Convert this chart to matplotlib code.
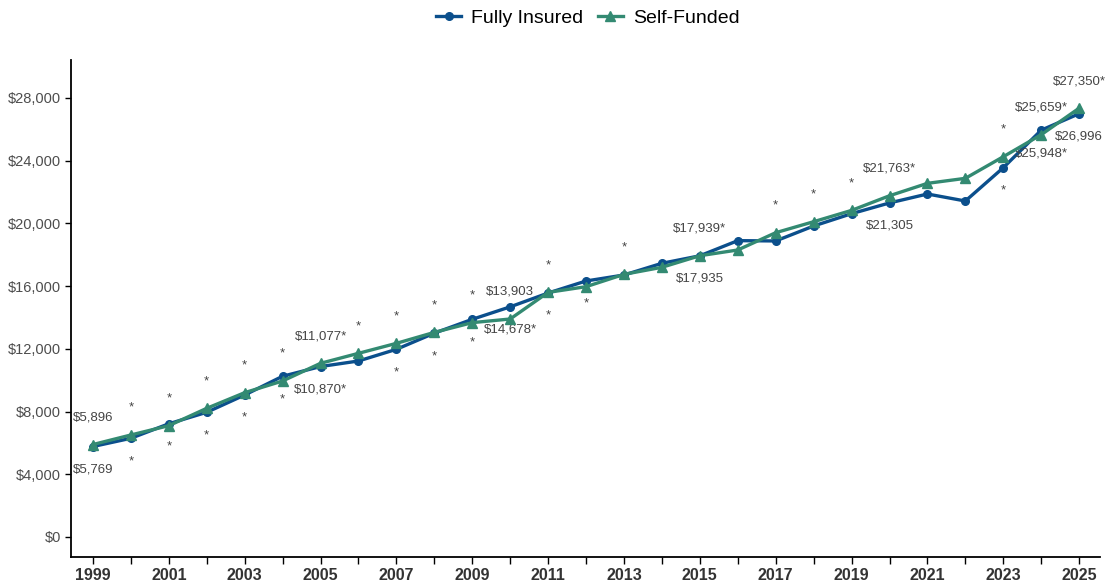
import matplotlib.pyplot as plt
from matplotlib.ticker import FuncFormatter

plt.rcParams['font.family'] = ['Liberation Sans', 'DejaVu Sans']

years = list(range(1999, 2026))
fully_insured = [5769, 6295, 7220, 7953, 9056, 10250, 10870, 11224, 11969, 13000,
                 13883, 14678, 15560, 16327, 16709, 17455, 17935, 18900, 18880, 19834,
                 20620, 21305, 21875, 21428, 23552, 25948, 26996]
self_funded = [5896, 6505, 7100, 8206, 9204, 9950, 11077, 11713, 12350, 13050,
               13670, 13903, 15600, 15964, 16750, 17200, 17939, 18304, 19407, 20108,
               20830, 21763, 22555, 22874, 24254, 25659, 27350]

# years with a significant change from the previous year
fi_signif = [2000, 2001, 2002, 2003, 2004, 2005, 2007, 2008, 2009, 2010, 2011, 2012, 2023, 2024]
sf_signif = [2000, 2001, 2002, 2003, 2004, 2005, 2006, 2007, 2008, 2009, 2011, 2013, 2015,
             2017, 2018, 2019, 2020, 2023, 2024, 2025]
label_years = [1999, 2005, 2010, 2015, 2020, 2024, 2025]

blue = '#0b4f8c'
green = '#338a72'
gray = '#4d4d4d'

fig = plt.figure(figsize=(11.07, 5.85), dpi=100)
ax = fig.add_axes([0.0641, 0.0479, 0.9296, 0.8495])

ax.plot(years, fully_insured, color=blue, lw=2.4, marker='o', ms=5.5, label='Fully Insured', zorder=3)
ax.plot(years, self_funded, color=green, lw=2.4, marker='^', ms=7, label='Self-Funded', zorder=4)

for i, yr in enumerate(years):
    sf_txt = ''
    fi_txt = ''
    if yr in label_years:
        sf_txt = f'${self_funded[i]:,}'
        fi_txt = f'${fully_insured[i]:,}'
    if yr in sf_signif:
        sf_txt += '*'
    if yr in fi_signif:
        fi_txt += '*'
    if sf_txt:
        ax.annotate(sf_txt, (yr, self_funded[i]), xytext=(0, 19.5), textcoords='offset points',
                    ha='center', va='center', fontsize=9.5, color='#444444', annotation_clip=False)
    if fi_txt:
        ax.annotate(fi_txt, (yr, fully_insured[i]), xytext=(0, -16.5), textcoords='offset points',
                    ha='center', va='center', fontsize=9.5, color='#444444', annotation_clip=False)

ax.set_xlim(1998.42, 2025.55)
ax.set_ylim(-1276, 30420)
ax.set_xticks(years)
ax.set_xticklabels([str(y) if y % 2 == 1 else '' for y in years])
ax.set_yticks(range(0, 28001, 4000))
ax.yaxis.set_major_formatter(FuncFormatter(lambda v, p: f'${int(v):,}'))

for s in ['top', 'right']:
    ax.spines[s].set_visible(False)
for s in ['left', 'bottom']:
    ax.spines[s].set_linewidth(1.3)
    ax.spines[s].set_color('black')

ax.tick_params(axis='y', length=4, width=1, labelsize=10.5, labelcolor=gray, pad=3)
ax.tick_params(axis='x', length=5, width=1, labelsize=11.5, labelcolor='#333333', pad=3)
for t in ax.get_xticklabels():
    t.set_fontweight('bold')

fig.legend(loc='center', bbox_to_anchor=(0.531, 0.969), ncol=2, frameon=False,
           fontsize=14, handlelength=1.3, columnspacing=0.75, handletextpad=0.5)

fig.savefig('out.png', dpi=100)
